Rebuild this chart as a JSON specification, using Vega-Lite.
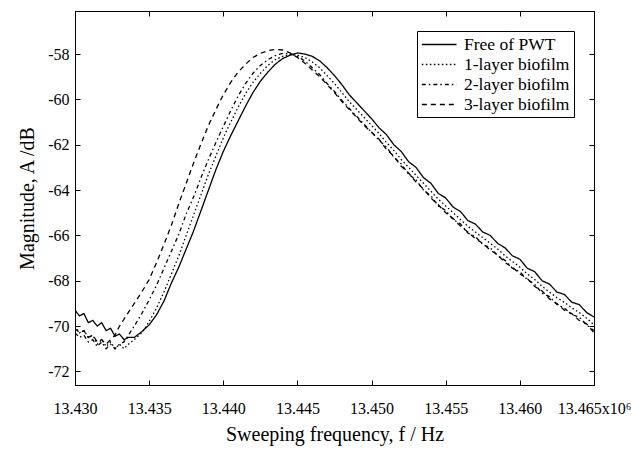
{
  "$schema": "https://vega.github.io/schema/vega-lite/v6.json",
  "autosize": {"type": "none"},
  "padding": {"left": 75, "top": 11, "right": 38, "bottom": 65},
  "width": 519,
  "height": 374,
  "background": "white",
  "config": {
    "view": {"stroke": "black", "strokeWidth": 1},
    "font": "Liberation Serif",
    "axis": {
      "domainColor": "black",
      "tickColor": "black",
      "labelColor": "black",
      "titleColor": "black",
      "labelFont": "Liberation Serif",
      "titleFont": "Liberation Serif",
      "labelFontSize": 16,
      "titleFontSize": 20,
      "titleFontWeight": "normal",
      "grid": false,
      "tickSize": -5
    }
  },
  "data": {"values": [
    {"series": "Free of PWT", "f": 13.4300, "A": -69.3},
    {"series": "Free of PWT", "f": 13.4303, "A": -69.55},
    {"series": "Free of PWT", "f": 13.4306, "A": -69.45},
    {"series": "Free of PWT", "f": 13.4309, "A": -69.85},
    {"series": "Free of PWT", "f": 13.4312, "A": -69.75},
    {"series": "Free of PWT", "f": 13.4315, "A": -70.0},
    {"series": "Free of PWT", "f": 13.4318, "A": -69.85},
    {"series": "Free of PWT", "f": 13.4321, "A": -70.2},
    {"series": "Free of PWT", "f": 13.4324, "A": -70.1},
    {"series": "Free of PWT", "f": 13.4327, "A": -70.45},
    {"series": "Free of PWT", "f": 13.4330, "A": -70.35},
    {"series": "Free of PWT", "f": 13.4333, "A": -70.6},
    {"series": "Free of PWT", "f": 13.4336, "A": -70.5},
    {"series": "Free of PWT", "f": 13.4340, "A": -70.5},
    {"series": "Free of PWT", "f": 13.4345, "A": -70.25},
    {"series": "Free of PWT", "f": 13.4350, "A": -69.95},
    {"series": "Free of PWT", "f": 13.4355, "A": -69.5},
    {"series": "Free of PWT", "f": 13.4360, "A": -68.9},
    {"series": "Free of PWT", "f": 13.4365, "A": -68.1},
    {"series": "Free of PWT", "f": 13.4370, "A": -67.4},
    {"series": "Free of PWT", "f": 13.4375, "A": -66.6},
    {"series": "Free of PWT", "f": 13.4380, "A": -65.8},
    {"series": "Free of PWT", "f": 13.4385, "A": -64.9},
    {"series": "Free of PWT", "f": 13.4390, "A": -64.0},
    {"series": "Free of PWT", "f": 13.4395, "A": -63.1},
    {"series": "Free of PWT", "f": 13.4400, "A": -62.3},
    {"series": "Free of PWT", "f": 13.4405, "A": -61.6},
    {"series": "Free of PWT", "f": 13.4410, "A": -60.95},
    {"series": "Free of PWT", "f": 13.4415, "A": -60.3},
    {"series": "Free of PWT", "f": 13.4420, "A": -59.7},
    {"series": "Free of PWT", "f": 13.4425, "A": -59.2},
    {"series": "Free of PWT", "f": 13.4430, "A": -58.8},
    {"series": "Free of PWT", "f": 13.4435, "A": -58.45},
    {"series": "Free of PWT", "f": 13.4440, "A": -58.2},
    {"series": "Free of PWT", "f": 13.4445, "A": -58.05},
    {"series": "Free of PWT", "f": 13.4450, "A": -57.95},
    {"series": "Free of PWT", "f": 13.4455, "A": -58.0},
    {"series": "Free of PWT", "f": 13.4460, "A": -58.1},
    {"series": "Free of PWT", "f": 13.4465, "A": -58.3},
    {"series": "Free of PWT", "f": 13.4470, "A": -58.6},
    {"series": "Free of PWT", "f": 13.4475, "A": -58.95},
    {"series": "Free of PWT", "f": 13.4480, "A": -59.35},
    {"series": "Free of PWT", "f": 13.4485, "A": -59.8},
    {"series": "Free of PWT", "f": 13.4490, "A": -60.15},
    {"series": "Free of PWT", "f": 13.4495, "A": -60.5},
    {"series": "Free of PWT", "f": 13.4500, "A": -60.85},
    {"series": "Free of PWT", "f": 13.4505, "A": -61.25},
    {"series": "Free of PWT", "f": 13.4510, "A": -61.55},
    {"series": "Free of PWT", "f": 13.4515, "A": -62.0},
    {"series": "Free of PWT", "f": 13.4520, "A": -62.3},
    {"series": "Free of PWT", "f": 13.4525, "A": -62.75},
    {"series": "Free of PWT", "f": 13.4530, "A": -63.0},
    {"series": "Free of PWT", "f": 13.4535, "A": -63.45},
    {"series": "Free of PWT", "f": 13.4540, "A": -63.7},
    {"series": "Free of PWT", "f": 13.4545, "A": -64.15},
    {"series": "Free of PWT", "f": 13.4550, "A": -64.35},
    {"series": "Free of PWT", "f": 13.4555, "A": -64.75},
    {"series": "Free of PWT", "f": 13.4560, "A": -64.95},
    {"series": "Free of PWT", "f": 13.4565, "A": -65.35},
    {"series": "Free of PWT", "f": 13.4570, "A": -65.5},
    {"series": "Free of PWT", "f": 13.4575, "A": -65.85},
    {"series": "Free of PWT", "f": 13.4580, "A": -66.0},
    {"series": "Free of PWT", "f": 13.4585, "A": -66.35},
    {"series": "Free of PWT", "f": 13.4590, "A": -66.55},
    {"series": "Free of PWT", "f": 13.4595, "A": -66.9},
    {"series": "Free of PWT", "f": 13.4600, "A": -67.05},
    {"series": "Free of PWT", "f": 13.4605, "A": -67.45},
    {"series": "Free of PWT", "f": 13.4610, "A": -67.6},
    {"series": "Free of PWT", "f": 13.4615, "A": -68.0},
    {"series": "Free of PWT", "f": 13.4620, "A": -68.15},
    {"series": "Free of PWT", "f": 13.4625, "A": -68.5},
    {"series": "Free of PWT", "f": 13.4630, "A": -68.6},
    {"series": "Free of PWT", "f": 13.4635, "A": -68.95},
    {"series": "Free of PWT", "f": 13.4640, "A": -69.05},
    {"series": "Free of PWT", "f": 13.4645, "A": -69.4},
    {"series": "Free of PWT", "f": 13.4650, "A": -69.6},

    {"series": "1-layer biofilm", "f": 13.4300, "A": -70.0},
    {"series": "1-layer biofilm", "f": 13.4303, "A": -70.3},
    {"series": "1-layer biofilm", "f": 13.4306, "A": -70.2},
    {"series": "1-layer biofilm", "f": 13.4309, "A": -70.5},
    {"series": "1-layer biofilm", "f": 13.4312, "A": -70.4},
    {"series": "1-layer biofilm", "f": 13.4315, "A": -70.8},
    {"series": "1-layer biofilm", "f": 13.4318, "A": -70.6},
    {"series": "1-layer biofilm", "f": 13.4321, "A": -70.9},
    {"series": "1-layer biofilm", "f": 13.4324, "A": -70.7},
    {"series": "1-layer biofilm", "f": 13.4327, "A": -71.0},
    {"series": "1-layer biofilm", "f": 13.4330, "A": -70.8},
    {"series": "1-layer biofilm", "f": 13.4333, "A": -71.0},
    {"series": "1-layer biofilm", "f": 13.4336, "A": -70.8},
    {"series": "1-layer biofilm", "f": 13.4340, "A": -70.6},
    {"series": "1-layer biofilm", "f": 13.4345, "A": -70.3},
    {"series": "1-layer biofilm", "f": 13.4350, "A": -69.8},
    {"series": "1-layer biofilm", "f": 13.4355, "A": -69.2},
    {"series": "1-layer biofilm", "f": 13.4360, "A": -68.5},
    {"series": "1-layer biofilm", "f": 13.4365, "A": -67.7},
    {"series": "1-layer biofilm", "f": 13.4370, "A": -66.9},
    {"series": "1-layer biofilm", "f": 13.4375, "A": -66.0},
    {"series": "1-layer biofilm", "f": 13.4380, "A": -65.1},
    {"series": "1-layer biofilm", "f": 13.4385, "A": -64.2},
    {"series": "1-layer biofilm", "f": 13.4390, "A": -63.3},
    {"series": "1-layer biofilm", "f": 13.4395, "A": -62.5},
    {"series": "1-layer biofilm", "f": 13.4400, "A": -61.7},
    {"series": "1-layer biofilm", "f": 13.4405, "A": -61.0},
    {"series": "1-layer biofilm", "f": 13.4410, "A": -60.35},
    {"series": "1-layer biofilm", "f": 13.4415, "A": -59.75},
    {"series": "1-layer biofilm", "f": 13.4420, "A": -59.25},
    {"series": "1-layer biofilm", "f": 13.4425, "A": -58.85},
    {"series": "1-layer biofilm", "f": 13.4430, "A": -58.5},
    {"series": "1-layer biofilm", "f": 13.4435, "A": -58.25},
    {"series": "1-layer biofilm", "f": 13.4440, "A": -58.1},
    {"series": "1-layer biofilm", "f": 13.4445, "A": -58.02},
    {"series": "1-layer biofilm", "f": 13.4450, "A": -58.05},
    {"series": "1-layer biofilm", "f": 13.4455, "A": -58.15},
    {"series": "1-layer biofilm", "f": 13.4460, "A": -58.35},
    {"series": "1-layer biofilm", "f": 13.4465, "A": -58.6},
    {"series": "1-layer biofilm", "f": 13.4470, "A": -58.95},
    {"series": "1-layer biofilm", "f": 13.4475, "A": -59.3},
    {"series": "1-layer biofilm", "f": 13.4480, "A": -59.7},
    {"series": "1-layer biofilm", "f": 13.4485, "A": -60.1},
    {"series": "1-layer biofilm", "f": 13.4490, "A": -60.45},
    {"series": "1-layer biofilm", "f": 13.4495, "A": -60.8},
    {"series": "1-layer biofilm", "f": 13.4500, "A": -61.15},
    {"series": "1-layer biofilm", "f": 13.4505, "A": -61.5},
    {"series": "1-layer biofilm", "f": 13.4510, "A": -61.9},
    {"series": "1-layer biofilm", "f": 13.4515, "A": -62.25},
    {"series": "1-layer biofilm", "f": 13.4520, "A": -62.65},
    {"series": "1-layer biofilm", "f": 13.4525, "A": -63.0},
    {"series": "1-layer biofilm", "f": 13.4530, "A": -63.35},
    {"series": "1-layer biofilm", "f": 13.4535, "A": -63.7},
    {"series": "1-layer biofilm", "f": 13.4540, "A": -64.05},
    {"series": "1-layer biofilm", "f": 13.4545, "A": -64.4},
    {"series": "1-layer biofilm", "f": 13.4550, "A": -64.7},
    {"series": "1-layer biofilm", "f": 13.4555, "A": -65.0},
    {"series": "1-layer biofilm", "f": 13.4560, "A": -65.3},
    {"series": "1-layer biofilm", "f": 13.4565, "A": -65.6},
    {"series": "1-layer biofilm", "f": 13.4570, "A": -65.85},
    {"series": "1-layer biofilm", "f": 13.4575, "A": -66.1},
    {"series": "1-layer biofilm", "f": 13.4580, "A": -66.35},
    {"series": "1-layer biofilm", "f": 13.4585, "A": -66.6},
    {"series": "1-layer biofilm", "f": 13.4590, "A": -66.9},
    {"series": "1-layer biofilm", "f": 13.4595, "A": -67.15},
    {"series": "1-layer biofilm", "f": 13.4600, "A": -67.4},
    {"series": "1-layer biofilm", "f": 13.4605, "A": -67.7},
    {"series": "1-layer biofilm", "f": 13.4610, "A": -67.95},
    {"series": "1-layer biofilm", "f": 13.4615, "A": -68.25},
    {"series": "1-layer biofilm", "f": 13.4620, "A": -68.5},
    {"series": "1-layer biofilm", "f": 13.4625, "A": -68.75},
    {"series": "1-layer biofilm", "f": 13.4630, "A": -68.95},
    {"series": "1-layer biofilm", "f": 13.4635, "A": -69.2},
    {"series": "1-layer biofilm", "f": 13.4640, "A": -69.4},
    {"series": "1-layer biofilm", "f": 13.4645, "A": -69.65},
    {"series": "1-layer biofilm", "f": 13.4650, "A": -69.95},

    {"series": "2-layer biofilm", "f": 13.4300, "A": -70.3},
    {"series": "2-layer biofilm", "f": 13.4303, "A": -70.5},
    {"series": "2-layer biofilm", "f": 13.4306, "A": -70.4},
    {"series": "2-layer biofilm", "f": 13.4309, "A": -70.7},
    {"series": "2-layer biofilm", "f": 13.4312, "A": -70.6},
    {"series": "2-layer biofilm", "f": 13.4315, "A": -70.9},
    {"series": "2-layer biofilm", "f": 13.4318, "A": -70.7},
    {"series": "2-layer biofilm", "f": 13.4321, "A": -71.0},
    {"series": "2-layer biofilm", "f": 13.4324, "A": -70.8},
    {"series": "2-layer biofilm", "f": 13.4327, "A": -71.0},
    {"series": "2-layer biofilm", "f": 13.4330, "A": -70.8},
    {"series": "2-layer biofilm", "f": 13.4333, "A": -70.7},
    {"series": "2-layer biofilm", "f": 13.4336, "A": -70.4},
    {"series": "2-layer biofilm", "f": 13.4340, "A": -70.0},
    {"series": "2-layer biofilm", "f": 13.4345, "A": -69.45},
    {"series": "2-layer biofilm", "f": 13.4350, "A": -68.85},
    {"series": "2-layer biofilm", "f": 13.4355, "A": -68.2},
    {"series": "2-layer biofilm", "f": 13.4360, "A": -67.45},
    {"series": "2-layer biofilm", "f": 13.4365, "A": -66.7},
    {"series": "2-layer biofilm", "f": 13.4370, "A": -65.95},
    {"series": "2-layer biofilm", "f": 13.4375, "A": -65.05},
    {"series": "2-layer biofilm", "f": 13.4380, "A": -64.3},
    {"series": "2-layer biofilm", "f": 13.4385, "A": -63.45},
    {"series": "2-layer biofilm", "f": 13.4390, "A": -62.65},
    {"series": "2-layer biofilm", "f": 13.4395, "A": -61.9},
    {"series": "2-layer biofilm", "f": 13.4400, "A": -61.2},
    {"series": "2-layer biofilm", "f": 13.4405, "A": -60.5},
    {"series": "2-layer biofilm", "f": 13.4410, "A": -59.85},
    {"series": "2-layer biofilm", "f": 13.4415, "A": -59.3},
    {"series": "2-layer biofilm", "f": 13.4420, "A": -58.85},
    {"series": "2-layer biofilm", "f": 13.4425, "A": -58.5},
    {"series": "2-layer biofilm", "f": 13.4430, "A": -58.25},
    {"series": "2-layer biofilm", "f": 13.4435, "A": -58.07},
    {"series": "2-layer biofilm", "f": 13.4440, "A": -57.97},
    {"series": "2-layer biofilm", "f": 13.4445, "A": -57.98},
    {"series": "2-layer biofilm", "f": 13.4450, "A": -58.1},
    {"series": "2-layer biofilm", "f": 13.4455, "A": -58.3},
    {"series": "2-layer biofilm", "f": 13.4460, "A": -58.6},
    {"series": "2-layer biofilm", "f": 13.4465, "A": -58.9},
    {"series": "2-layer biofilm", "f": 13.4470, "A": -59.3},
    {"series": "2-layer biofilm", "f": 13.4475, "A": -59.65},
    {"series": "2-layer biofilm", "f": 13.4480, "A": -60.05},
    {"series": "2-layer biofilm", "f": 13.4485, "A": -60.4},
    {"series": "2-layer biofilm", "f": 13.4490, "A": -60.75},
    {"series": "2-layer biofilm", "f": 13.4495, "A": -61.1},
    {"series": "2-layer biofilm", "f": 13.4500, "A": -61.45},
    {"series": "2-layer biofilm", "f": 13.4505, "A": -61.8},
    {"series": "2-layer biofilm", "f": 13.4510, "A": -62.1},
    {"series": "2-layer biofilm", "f": 13.4515, "A": -62.55},
    {"series": "2-layer biofilm", "f": 13.4520, "A": -62.85},
    {"series": "2-layer biofilm", "f": 13.4525, "A": -63.3},
    {"series": "2-layer biofilm", "f": 13.4530, "A": -63.55},
    {"series": "2-layer biofilm", "f": 13.4535, "A": -64.0},
    {"series": "2-layer biofilm", "f": 13.4540, "A": -64.25},
    {"series": "2-layer biofilm", "f": 13.4545, "A": -64.7},
    {"series": "2-layer biofilm", "f": 13.4550, "A": -64.9},
    {"series": "2-layer biofilm", "f": 13.4555, "A": -65.3},
    {"series": "2-layer biofilm", "f": 13.4560, "A": -65.5},
    {"series": "2-layer biofilm", "f": 13.4565, "A": -65.9},
    {"series": "2-layer biofilm", "f": 13.4570, "A": -66.05},
    {"series": "2-layer biofilm", "f": 13.4575, "A": -66.4},
    {"series": "2-layer biofilm", "f": 13.4580, "A": -66.55},
    {"series": "2-layer biofilm", "f": 13.4585, "A": -66.9},
    {"series": "2-layer biofilm", "f": 13.4590, "A": -67.1},
    {"series": "2-layer biofilm", "f": 13.4595, "A": -67.45},
    {"series": "2-layer biofilm", "f": 13.4600, "A": -67.6},
    {"series": "2-layer biofilm", "f": 13.4605, "A": -67.95},
    {"series": "2-layer biofilm", "f": 13.4610, "A": -68.15},
    {"series": "2-layer biofilm", "f": 13.4615, "A": -68.55},
    {"series": "2-layer biofilm", "f": 13.4620, "A": -68.7},
    {"series": "2-layer biofilm", "f": 13.4625, "A": -69.05},
    {"series": "2-layer biofilm", "f": 13.4630, "A": -69.2},
    {"series": "2-layer biofilm", "f": 13.4635, "A": -69.5},
    {"series": "2-layer biofilm", "f": 13.4640, "A": -69.6},
    {"series": "2-layer biofilm", "f": 13.4645, "A": -69.95},
    {"series": "2-layer biofilm", "f": 13.4650, "A": -70.2},

    {"series": "3-layer biofilm", "f": 13.4300, "A": -70.1},
    {"series": "3-layer biofilm", "f": 13.4303, "A": -70.3},
    {"series": "3-layer biofilm", "f": 13.4306, "A": -70.2},
    {"series": "3-layer biofilm", "f": 13.4309, "A": -70.5},
    {"series": "3-layer biofilm", "f": 13.4312, "A": -70.4},
    {"series": "3-layer biofilm", "f": 13.4315, "A": -70.7},
    {"series": "3-layer biofilm", "f": 13.4318, "A": -70.6},
    {"series": "3-layer biofilm", "f": 13.4321, "A": -70.8},
    {"series": "3-layer biofilm", "f": 13.4324, "A": -70.6},
    {"series": "3-layer biofilm", "f": 13.4327, "A": -70.4},
    {"series": "3-layer biofilm", "f": 13.4330, "A": -70.0},
    {"series": "3-layer biofilm", "f": 13.4333, "A": -69.7},
    {"series": "3-layer biofilm", "f": 13.4336, "A": -69.4},
    {"series": "3-layer biofilm", "f": 13.4340, "A": -69.0},
    {"series": "3-layer biofilm", "f": 13.4345, "A": -68.5},
    {"series": "3-layer biofilm", "f": 13.4350, "A": -67.95},
    {"series": "3-layer biofilm", "f": 13.4355, "A": -67.2},
    {"series": "3-layer biofilm", "f": 13.4360, "A": -66.4},
    {"series": "3-layer biofilm", "f": 13.4365, "A": -65.55},
    {"series": "3-layer biofilm", "f": 13.4370, "A": -64.6},
    {"series": "3-layer biofilm", "f": 13.4375, "A": -63.7},
    {"series": "3-layer biofilm", "f": 13.4380, "A": -62.8},
    {"series": "3-layer biofilm", "f": 13.4385, "A": -61.95},
    {"series": "3-layer biofilm", "f": 13.4390, "A": -61.15},
    {"series": "3-layer biofilm", "f": 13.4395, "A": -60.45},
    {"series": "3-layer biofilm", "f": 13.4400, "A": -59.8},
    {"series": "3-layer biofilm", "f": 13.4405, "A": -59.25},
    {"series": "3-layer biofilm", "f": 13.4410, "A": -58.8},
    {"series": "3-layer biofilm", "f": 13.4415, "A": -58.45},
    {"series": "3-layer biofilm", "f": 13.4420, "A": -58.15},
    {"series": "3-layer biofilm", "f": 13.4425, "A": -57.97},
    {"series": "3-layer biofilm", "f": 13.4430, "A": -57.85},
    {"series": "3-layer biofilm", "f": 13.4435, "A": -57.8},
    {"series": "3-layer biofilm", "f": 13.4440, "A": -57.82},
    {"series": "3-layer biofilm", "f": 13.4445, "A": -57.95},
    {"series": "3-layer biofilm", "f": 13.4450, "A": -58.15},
    {"series": "3-layer biofilm", "f": 13.4455, "A": -58.4},
    {"series": "3-layer biofilm", "f": 13.4460, "A": -58.7},
    {"series": "3-layer biofilm", "f": 13.4465, "A": -59.0},
    {"series": "3-layer biofilm", "f": 13.4470, "A": -59.35},
    {"series": "3-layer biofilm", "f": 13.4475, "A": -59.7},
    {"series": "3-layer biofilm", "f": 13.4480, "A": -60.1},
    {"series": "3-layer biofilm", "f": 13.4485, "A": -60.45},
    {"series": "3-layer biofilm", "f": 13.4490, "A": -60.8},
    {"series": "3-layer biofilm", "f": 13.4495, "A": -61.15},
    {"series": "3-layer biofilm", "f": 13.4500, "A": -61.45},
    {"series": "3-layer biofilm", "f": 13.4505, "A": -61.75},
    {"series": "3-layer biofilm", "f": 13.4510, "A": -62.2},
    {"series": "3-layer biofilm", "f": 13.4515, "A": -62.5},
    {"series": "3-layer biofilm", "f": 13.4520, "A": -62.95},
    {"series": "3-layer biofilm", "f": 13.4525, "A": -63.25},
    {"series": "3-layer biofilm", "f": 13.4530, "A": -63.65},
    {"series": "3-layer biofilm", "f": 13.4535, "A": -63.95},
    {"series": "3-layer biofilm", "f": 13.4540, "A": -64.35},
    {"series": "3-layer biofilm", "f": 13.4545, "A": -64.65},
    {"series": "3-layer biofilm", "f": 13.4550, "A": -65.0},
    {"series": "3-layer biofilm", "f": 13.4555, "A": -65.25},
    {"series": "3-layer biofilm", "f": 13.4560, "A": -65.6},
    {"series": "3-layer biofilm", "f": 13.4565, "A": -65.85},
    {"series": "3-layer biofilm", "f": 13.4570, "A": -66.15},
    {"series": "3-layer biofilm", "f": 13.4575, "A": -66.35},
    {"series": "3-layer biofilm", "f": 13.4580, "A": -66.65},
    {"series": "3-layer biofilm", "f": 13.4585, "A": -66.85},
    {"series": "3-layer biofilm", "f": 13.4590, "A": -67.2},
    {"series": "3-layer biofilm", "f": 13.4595, "A": -67.4},
    {"series": "3-layer biofilm", "f": 13.4600, "A": -67.7},
    {"series": "3-layer biofilm", "f": 13.4605, "A": -67.9},
    {"series": "3-layer biofilm", "f": 13.4610, "A": -68.25},
    {"series": "3-layer biofilm", "f": 13.4615, "A": -68.45},
    {"series": "3-layer biofilm", "f": 13.4620, "A": -68.8},
    {"series": "3-layer biofilm", "f": 13.4625, "A": -69.0},
    {"series": "3-layer biofilm", "f": 13.4630, "A": -69.3},
    {"series": "3-layer biofilm", "f": 13.4635, "A": -69.45},
    {"series": "3-layer biofilm", "f": 13.4640, "A": -69.75},
    {"series": "3-layer biofilm", "f": 13.4645, "A": -69.9},
    {"series": "3-layer biofilm", "f": 13.4650, "A": -70.3}
  ]},
  "layer": [
    {
      "mark": {"type": "line", "color": "black", "strokeWidth": 1.3, "clip": true},
      "encoding": {
        "x": {
          "field": "f", "type": "quantitative",
          "scale": {"domain": [13.43, 13.465], "nice": false, "zero": false},
          "axis": {
            "orient": "bottom",
            "values": [13.43, 13.435, 13.44, 13.445, 13.45, 13.455, 13.46, 13.465],
            "labelExpr": "datum.value > 13.4645 ? '13.465x10⁶' : format(datum.value, '.3f')",
            "labelPadding": 20,
            "labelFlush": false,
            "labelOverlap": false,
            "title": "Sweeping frequency, f / Hz",
            "titlePadding": 8
          }
        },
        "y": {
          "field": "A", "type": "quantitative",
          "scale": {"domain": [-72.6, -56.1], "nice": false, "zero": false},
          "axis": {
            "orient": "left",
            "values": [-72, -70, -68, -66, -64, -62, -60, -58],
            "labelExpr": "'-' + format(abs(datum.value), 'd')",
            "labelPadding": 11,
            "title": "Magnitude, A /dB",
            "titlePadding": 10
          }
        },
        "strokeDash": {
          "field": "series", "type": "nominal",
          "scale": {
            "domain": ["Free of PWT", "1-layer biofilm", "2-layer biofilm", "3-layer biofilm"],
            "range": [[1, 0], [1.5, 2.5], [4, 3, 1.5, 3], [5, 4]]
          },
          "legend": {
            "title": null,
            "orient": "top-right",
            "offset": 20,
            "strokeColor": "black",
            "fillColor": "white",
            "padding": 4,
            "symbolType": "M-1,0H3",
            "symbolSize": 300,
            "symbolStrokeWidth": 1.3,
            "symbolStrokeColor": "black",
            "symbolFillColor": "transparent",
            "labelFont": "Liberation Serif",
            "labelFontSize": 17.5,
            "labelColor": "black",
            "labelOffset": 24,
            "rowPadding": 2,
            "cornerRadius": 0
          }
        }
      }
    },
    {
      "mark": {"type": "line", "strokeOpacity": 0},
      "encoding": {
        "x": {
          "field": "f", "type": "quantitative",
          "axis": {"orient": "top", "labels": false, "title": null, "values": [13.43, 13.435, 13.44, 13.445, 13.45, 13.455, 13.46, 13.465]}
        },
        "y": {
          "field": "A", "type": "quantitative",
          "axis": {"orient": "right", "labels": false, "title": null, "values": [-72, -70, -68, -66, -64, -62, -60, -58]}
        },
        "detail": {"field": "series", "type": "nominal"}
      }
    }
  ],
  "resolve": {"axis": {"x": "independent", "y": "independent"}}
}
